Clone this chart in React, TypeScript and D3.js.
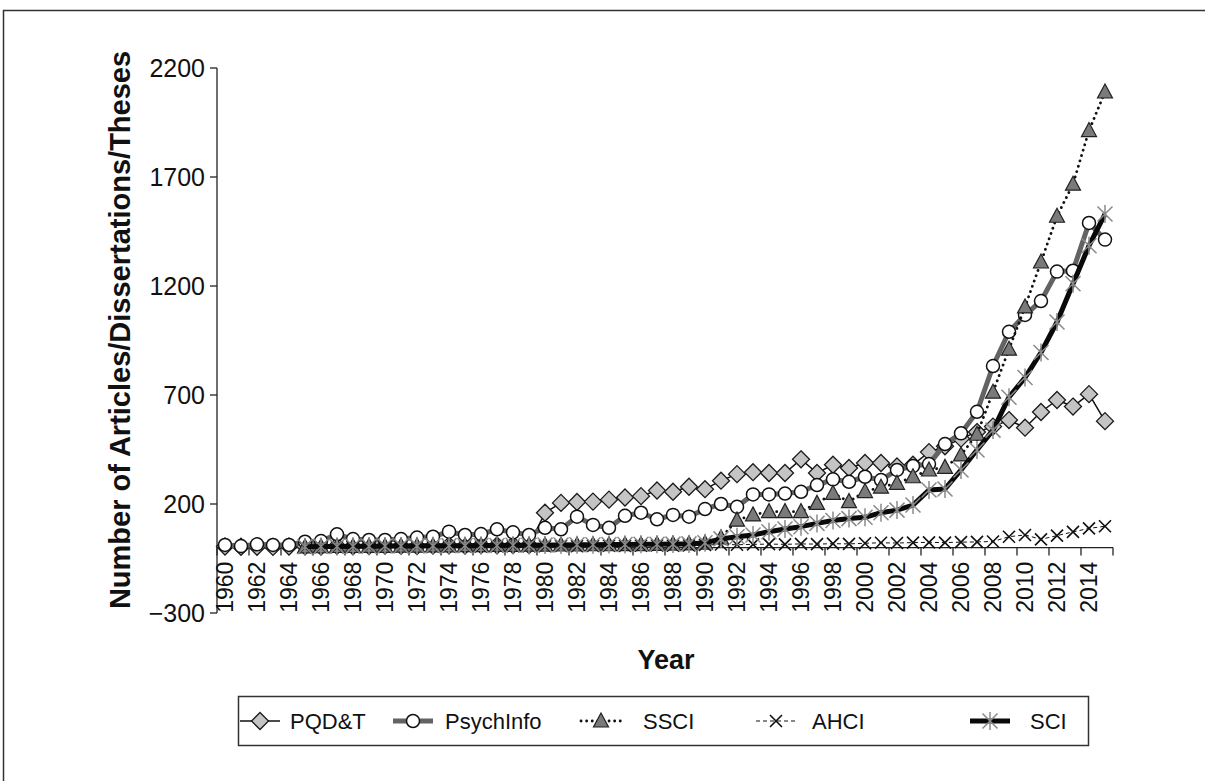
import React from 'react';
import * as d3 from 'd3';

// Years on the category axis
const years = d3.range(1960, 2016);

// Series values (null = no data for that year)
const pqdt = [
  5, 4, 4, 3, 5,
  6, 5, 8, 6, 7, 9, 8, 7, 9, 10, 9, 11, 10, 12, 12,
  160, 205, 209, 211, 220, 230, 236, 262, 256, 279,
  268, 307, 337, 346, 342, 342, 405, 342, 380, 365,
  388, 388, 372, 380, 438, 465, 500, 530, 555, 585,
  550, 622, 677, 647, 704, 580
];
const psychInfo = [
  12, 7, 15, 12, 12,
  27, 30, 61, 39, 35, 35, 39, 46, 50, 73, 58, 62, 84, 70, 58,
  91, 84, 142, 104, 91, 146, 160, 130, 150, 142,
  177, 200, 187, 244, 244, 248, 256, 287, 313, 302,
  325, 310, 356, 374, 383, 475, 524, 623, 833, 990,
  1067, 1131, 1266, 1270, 1489, 1413
];
const ssci = [
  null, null, null, null, null,
  3, 4, 5, 5, 6, 6, 7, 7, 8, 8, 9, 9, 10, 10, 11,
  11, 12, 12, 13, 13, 14, 14, 15, 16, 17,
  20, 45, 126, 150, 165, 165, 165, 203, 249, 211,
  257, 277, 295, 325, 356, 368, 425, 520, 713, 910,
  1104, 1310, 1520, 1667, 1913, 2090
];
const ahci = [
  null, null, null, null, null,
  2, 3, 2, 3, 4, 3, 4, 5, 4, 5, 6, 5, 6, 7, 6,
  7, 8, 7, 8, 9, 8, 9, 10, 9, 10,
  12, 14, 13, 15, 16, 15, 17, 16, 18, 17,
  20, 22, 21, 23, 24, 23, 25, 26, 28, 50,
  58, 38, 55, 72, 88, 98
];
const sci = [
  null, null, null, null, null,
  4, 5, 5, 6, 6, 7, 7, 8, 8, 9, 9, 10, 10, 11, 11,
  12, 12, 13, 13, 14, 14, 15, 15, 16, 17,
  22, 40, 50, 58, 73, 85, 96, 111, 124, 133,
  139, 160, 172, 195, 264, 269, 356, 448, 539, 690,
  780, 895, 1035, 1210, 1385, 1530
];

const yTicks = [-300, 200, 700, 1200, 1700, 2200];
const xLabelYears = d3.range(1960, 2015, 2);
const xTickYears = d3.range(1959.5, 2016, 2);

const font = "'Liberation Sans', Arial, Helvetica, sans-serif";

// marker drawers
function diamond(cx, cy, key) {
  const s = 8.5;
  return <path key={key} d={`M${cx},${cy - s}L${cx + s},${cy}L${cx},${cy + s}L${cx - s},${cy}Z`}
    fill="#c4c4c4" stroke="#1a1a1a" strokeWidth={1.3} />;
}
function circle(cx, cy, key) {
  return <circle key={key} cx={cx} cy={cy} r={6.5} fill="#fff" stroke="#111" strokeWidth={1.5} />;
}
function triangle(cx, cy, key) {
  return <path key={key} d={`M${cx},${cy - 8}L${cx + 7.5},${cy + 6}L${cx - 7.5},${cy + 6}Z`}
    fill="#7a7a7a" stroke="#222" strokeWidth={1.2} />;
}
function cross(cx, cy, key) {
  const s = 6;
  return <path key={key} d={`M${cx - s},${cy - s}L${cx + s},${cy + s}M${cx - s},${cy + s}L${cx + s},${cy - s}`}
    stroke="#111" strokeWidth={1.6} fill="none" />;
}
function star(cx, cy, key) {
  const s = 9, d = 7.5;
  return <path key={key} d={`M${cx},${cy - s}L${cx},${cy + s}M${cx - d},${cy - d}L${cx + d},${cy + d}M${cx - d},${cy + d}L${cx + d},${cy - d}`}
    stroke="#8a8a8a" strokeWidth={1.5} fill="none" />;
}

const series = [
  { name: 'PQD&T', values: pqdt, stroke: '#111', width: 1.5, dash: null, cap: 'butt', marker: diamond, legendX: 260, textX: 290 },
  { name: 'PsychInfo', values: psychInfo, stroke: '#636363', width: 5, dash: null, cap: 'butt', marker: circle, legendX: 413, textX: 445 },
  { name: 'SSCI', values: ssci, stroke: '#111', width: 2.8, dash: '0.1,5.5', cap: 'round', marker: triangle, legendX: 601, textX: 643 },
  { name: 'AHCI', values: ahci, stroke: '#111', width: 1, dash: '4,3', cap: 'butt', marker: cross, legendX: 776, textX: 812 },
  { name: 'SCI', values: sci, stroke: '#0a0a0a', width: 5, dash: null, cap: 'butt', marker: star, legendX: 990, textX: 1030 },
];

export default function App() {
  const width = 1205, height = 781;

  const x = d3.scaleLinear().domain([1959.5, 2015.5]).range([217, 1113]);
  const y = d3.scaleLinear().domain([-300, 2200]).range([613, 68]);
  const y0 = y(0);

  const line = d3.line()
    .defined(d => d[1] != null)
    .x(d => x(d[0]))
    .y(d => y(d[1]));

  const legendY = 721;

  return (
    <svg width={width} height={height} style={{ position: 'absolute', left: 0, top: 0, background: '#fff' }}
      fontFamily={font}>
      <rect x={3.5} y={10.5} width={1220} height={800} fill="none" stroke="#333" strokeWidth={1.5} />

      {/* y axis */}
      <line x1={217} x2={217} y1={y(2200)} y2={y(-300)} stroke="#222" strokeWidth={1.3} />
      {yTicks.map(t => (
        <g key={t}>
          <line x1={210} x2={217} y1={y(t)} y2={y(t)} stroke="#222" strokeWidth={1.3} />
          <text x={205} y={y(t)} dy="0.35em" textAnchor="end" fontSize={25} fill="#111">
            {t < 0 ? `\u2212${Math.abs(t)}` : t}
          </text>
        </g>
      ))}

      {/* x axis at zero */}
      <line x1={x(1959.5)} x2={x(2015.5)} y1={y0} y2={y0} stroke="#222" strokeWidth={1.3} />
      {xTickYears.map(t => (
        <line key={t} x1={x(t)} x2={x(t)} y1={y0} y2={y0 + 8} stroke="#222" strokeWidth={1.3} />
      ))}
      {xLabelYears.map(yr => (
        <text key={yr} transform={`translate(${x(yr)},${y0 + 14}) rotate(-90)`} dy="0.35em"
          textAnchor="end" fontSize={23} fill="#111">{yr}</text>
      ))}

      {/* axis titles */}
      <text transform={`translate(120,330) rotate(-90)`} textAnchor="middle"
        dy="0.35em" fontSize={29} fontWeight="bold" fill="#111">
        Number of Articles/Dissertations/Theses
      </text>
      <text x={666} y={669} textAnchor="middle" fontSize={27} fontWeight="bold" fill="#111">Year</text>

      {/* series */}
      {series.map(s => {
        const pts = years.map((yr, i) => [yr, s.values[i]]);
        return (
          <g key={s.name}>
            <path d={line(pts)} fill="none" stroke={s.stroke} strokeWidth={s.width}
              strokeDasharray={s.dash || undefined} strokeLinecap={s.cap} strokeLinejoin="round" />
            {pts.filter(p => p[1] != null).map((p, i) => s.marker(x(p[0]), y(p[1]), i))}
          </g>
        );
      })}

      {/* legend */}
      <rect x={238.5} y={696.5} width={850} height={49} fill="#fff" stroke="#333" strokeWidth={1.5} />
      {series.map(s => (
        <g key={s.name}>
          <line x1={s.legendX - 20} x2={s.legendX + 20} y1={legendY} y2={legendY}
            stroke={s.stroke} strokeWidth={s.width} strokeDasharray={s.dash || undefined} strokeLinecap={s.cap} />
          {s.marker(s.legendX, legendY, 'm')}
          <text x={s.textX} y={legendY} dy="0.35em" fontSize={22} fill="#111">{s.name}</text>
        </g>
      ))}
    </svg>
  );
}
